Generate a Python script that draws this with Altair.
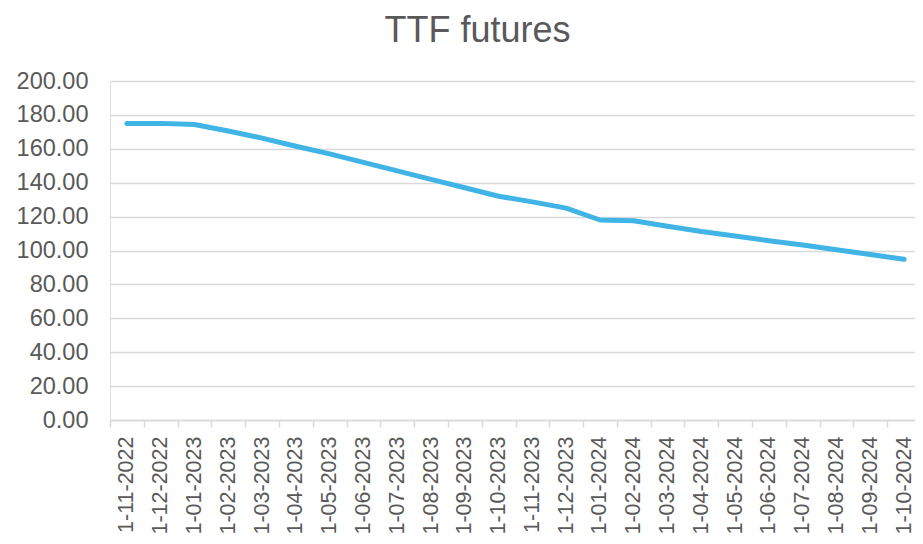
import altair as alt
import pandas as pd

dates = ["1-11-2022", "1-12-2022", "1-01-2023", "1-02-2023", "1-03-2023", "1-04-2023",
         "1-05-2023", "1-06-2023", "1-07-2023", "1-08-2023", "1-09-2023", "1-10-2023",
         "1-11-2023", "1-12-2023", "1-01-2024", "1-02-2024", "1-03-2024", "1-04-2024",
         "1-05-2024", "1-06-2024", "1-07-2024", "1-08-2024", "1-09-2024", "1-10-2024"]
prices = [175.0, 175.0, 174.3, 170.5, 166.3, 161.5, 157.0, 152.0, 147.0, 142.0, 137.0, 132.0,
          128.7, 125.0, 118.0, 117.5, 114.3, 111.2, 108.6, 105.8, 103.2, 100.4, 97.6, 94.8]
y_ticks = [0, 20, 40, 60, 80, 100, 120, 140, 160, 180, 200]

df = pd.DataFrame({"date": dates, "price": prices})

FONT = "Liberation Sans"
GREY = "#595959"
GRID = "#d9d9d9"

chart = alt.Chart(df).mark_line(
    color="#41B4E6", strokeWidth=5, strokeCap="round", strokeJoin="round"
).encode(
    x=alt.X("date:N", sort=dates,
            scale=alt.Scale(type="band", paddingInner=0, paddingOuter=0, range=[0, 811]),
            axis=alt.Axis(title=None, labelAngle=-90, labelFontSize=21.5, labelColor=GREY,
                          labelFont=FONT, labelPadding=9, tickBand="extent", tickSize=7,
                          tickColor=GRID, domainColor=GRID, tickWidth=1.5, domainWidth=1.5,
                          grid=False, labelOverlap=False)),
    y=alt.Y("price:Q", scale=alt.Scale(domain=[0, 200], nice=False),
            axis=alt.Axis(title=None, values=y_ticks, format=".2f", labelFontSize=23.5,
                          labelColor=GREY, labelFont=FONT, labelPadding=22, ticks=False,
                          domain=False, gridColor=GRID, gridWidth=1.5))
).properties(
    width=805, height=339,
    title=alt.TitleParams("TTF futures", fontSize=36, font=FONT, color=GREY,
                          fontWeight="normal", anchor="middle", offset=19, dx=-35),
    autosize=alt.AutoSizeParams(type="none"),
    padding={"left": 102, "top": 73, "right": 0, "bottom": 116}
).configure_view(stroke=None).configure(background="white")

chart.save("out.html", embed_options={"renderer": "svg", "actions": False})
